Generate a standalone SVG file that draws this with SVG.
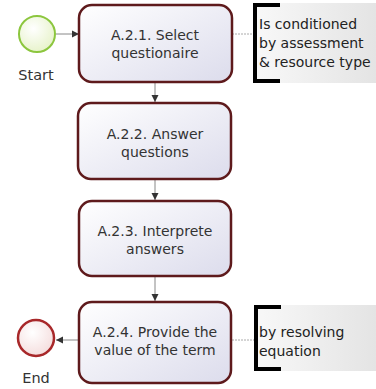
<svg xmlns="http://www.w3.org/2000/svg" width="376" height="389" viewBox="0 0 376 389">
<style>
.task{fill:url(#tg);stroke:#5e1a1c;stroke-width:2.5}
.t{font-family:"DejaVu Sans",Verdana,sans-serif;font-size:14px;fill:#333;text-anchor:middle}
.a{font-family:"DejaVu Sans",Verdana,sans-serif;font-size:14px;fill:#222}
.lbl{font-family:"DejaVu Sans",Verdana,sans-serif;font-size:14.5px;fill:#333;text-anchor:middle}
.flow{stroke:#888;stroke-width:1;fill:none;marker-end:url(#ah)}
.assoc{stroke:#aaa;stroke-width:1;stroke-dasharray:2 1;fill:none}
.ann{fill:url(#ag)}
.br{fill:none;stroke:#000;stroke-width:4}
</style>
<defs>
<linearGradient id="tg" x1="0" y1="0" x2="1" y2="1">
<stop offset="0" stop-color="#ffffff"/><stop offset="1" stop-color="#dcdcec"/>
</linearGradient>
<linearGradient id="ag" x1="0" y1="0" x2="1" y2="0">
<stop offset="0" stop-color="#f8f8f8"/><stop offset="1" stop-color="#e4e4e4"/>
</linearGradient>
<radialGradient id="sg" cx="0.4" cy="0.35" r="0.7">
<stop offset="0" stop-color="#ffffff"/><stop offset="1" stop-color="#e6f2c8"/>
</radialGradient>
<radialGradient id="eg" cx="0.4" cy="0.35" r="0.7">
<stop offset="0" stop-color="#ffffff"/><stop offset="1" stop-color="#f4dcdc"/>
</radialGradient>
<marker id="ah" markerWidth="8" markerHeight="8" refX="7" refY="4" orient="auto" markerUnits="userSpaceOnUse">
<path d="M0,0.5 L7,4 L0,7.5 Z" fill="#333"/>
</marker>
</defs>
<g id="connectors">
<line class="flow" x1="56" y1="34" x2="79" y2="34"/>
<line class="flow" x1="155" y1="83" x2="155" y2="102"/>
<line class="flow" x1="155" y1="180" x2="155" y2="200"/>
<line class="flow" x1="155" y1="277" x2="155" y2="301"/>
<line class="flow" x1="78" y1="340" x2="56" y2="340"/>
<line class="assoc" x1="232" y1="34" x2="255" y2="34"/>
<line class="assoc" x1="232" y1="340" x2="256" y2="340"/>
</g>
<g id="start">
<circle cx="37" cy="34" r="18" fill="url(#sg)" stroke="#8cc63e" stroke-width="2"/>
<text class="lbl" x="36" y="80">Start</text>
</g>
<g id="task1">
<rect class="task" x="79" y="5" width="153" height="77" rx="13"/>
<text class="t" x="155" y="40">A.2.1. Select</text>
<text class="t" x="155" y="58">questionaire</text>
</g>
<g id="task2">
<rect class="task" x="78" y="103" width="153" height="76" rx="13"/>
<text class="t" x="155" y="139">A.2.2. Answer</text>
<text class="t" x="155" y="157">questions</text>
</g>
<g id="task3">
<rect class="task" x="79" y="201" width="152" height="75" rx="13"/>
<text class="t" x="155" y="236">A.2.3. Interprete</text>
<text class="t" x="155" y="254">answers</text>
</g>
<g id="task4">
<rect class="task" x="79" y="302" width="152" height="81" rx="13"/>
<text class="t" x="155" y="337">A.2.4. Provide the</text>
<text class="t" x="155" y="355">value of the term</text>
</g>
<g id="end">
<circle cx="36" cy="338" r="18" fill="url(#eg)" stroke="#a8282a" stroke-width="2.5"/>
<text class="lbl" x="36" y="383">End</text>
</g>
<g id="annotation1">
<rect class="ann" x="255" y="3" width="121" height="80"/>
<path class="br" d="M280,5 H255 V81 H280"/>
<text class="a" x="259" y="29">Is conditioned</text>
<text class="a" x="259" y="48">by assessment</text>
<text class="a" x="259" y="67">&amp; resource type</text>
</g>
<g id="annotation2">
<rect class="ann" x="256" y="305" width="120" height="66"/>
<path class="br" d="M281,307 H256 V369 H281"/>
<text class="a" x="259" y="337">by resolving</text>
<text class="a" x="259" y="356">equation</text>
</g>
</svg>
